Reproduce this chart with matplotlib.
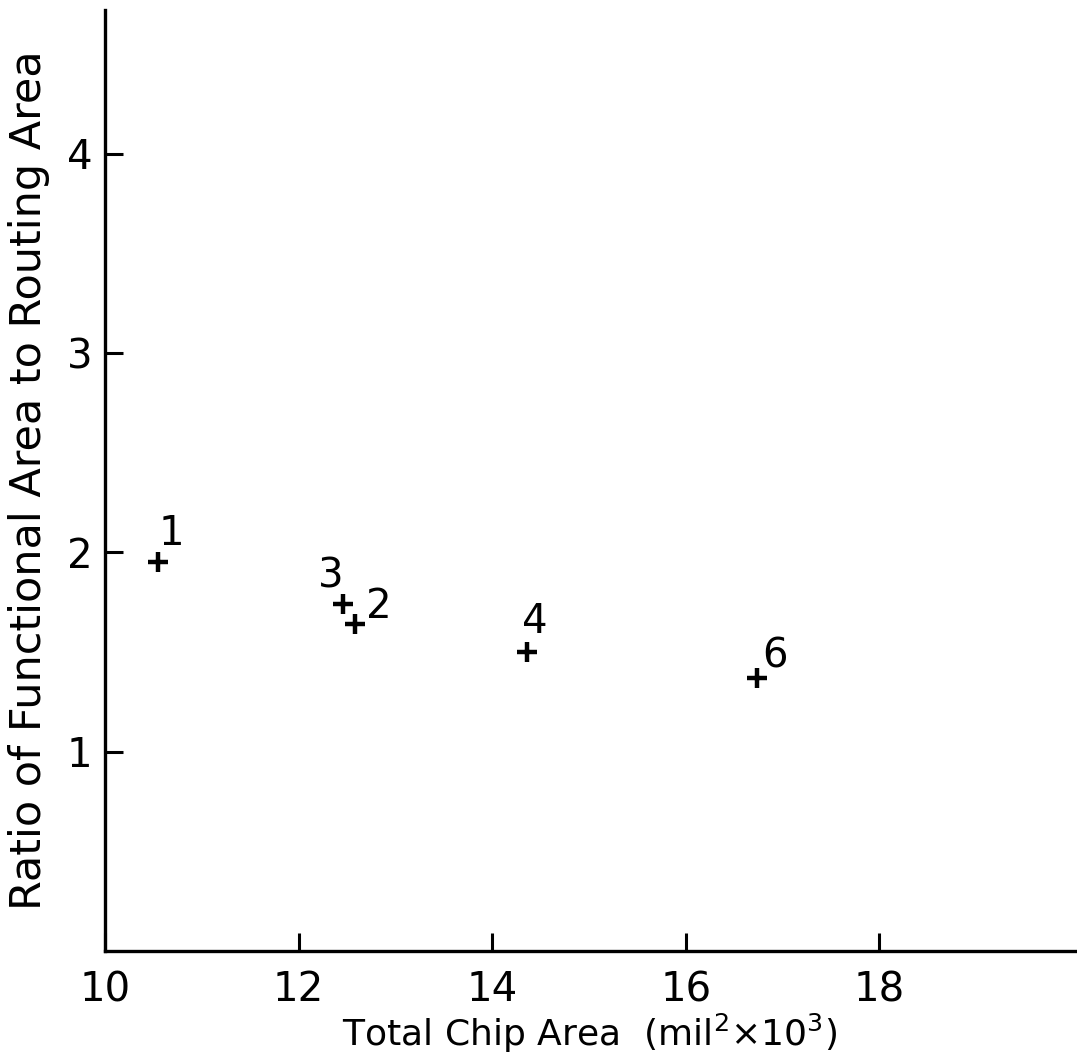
import numpy as np
import matplotlib
matplotlib.use('Agg')
import matplotlib.pyplot as plt

# chip data
chip_ids = ['1', '3', '2', '4', '6']
total_area = [10.55, 12.46, 12.58, 14.36, 16.74]
area_ratio = [1.95, 1.74, 1.64, 1.50, 1.37]
# label offsets (pixels) relative to each point
label_dx = [13, -12, 24, 8, 18]
label_dy = [28, 28, 17, 30, 21]

xticks = [10, 12, 14, 16, 18]
yticks = [1, 2, 3, 4]

plt.rcParams['font.family'] = ['DejaVu Sans']
plt.rcParams['mathtext.fontset'] = 'dejavusans'

fig = plt.figure(figsize=(10.77, 10.63), dpi=100)
ax = fig.add_axes([0.0975, 0.1054, 0.9005, 0.8852])

ax.plot(total_area, area_ratio, '+', color='k', markersize=14, mew=3.2)
for lab, x, y, dx, dy in zip(chip_ids, total_area, area_ratio, label_dx, label_dy):
    ax.annotate(lab, (x, y), xytext=(dx, dy), textcoords='offset pixels',
                ha='center', va='center', fontsize=29)

ax.set_xlim(10, 20.02)
ax.set_ylim(0, 4.72)
ax.set_xticks(xticks)
ax.set_yticks(yticks)
ax.tick_params(direction='in', length=13, width=2.2, labelsize=29)
ax.tick_params(axis='x', pad=14)
ax.tick_params(axis='y', pad=9)
for s in ['top', 'right']:
    ax.spines[s].set_visible(False)
for s in ['left', 'bottom']:
    ax.spines[s].set_linewidth(2.4)

ax.set_xlabel(r'Total Chip Area  (mil$^2$$\times$10$^3$)', fontsize=26, labelpad=1)
ax.set_ylabel('Ratio of Functional Area to Routing Area', fontsize=31, labelpad=12)

plt.savefig('out.png', dpi=100)
plt.close()
